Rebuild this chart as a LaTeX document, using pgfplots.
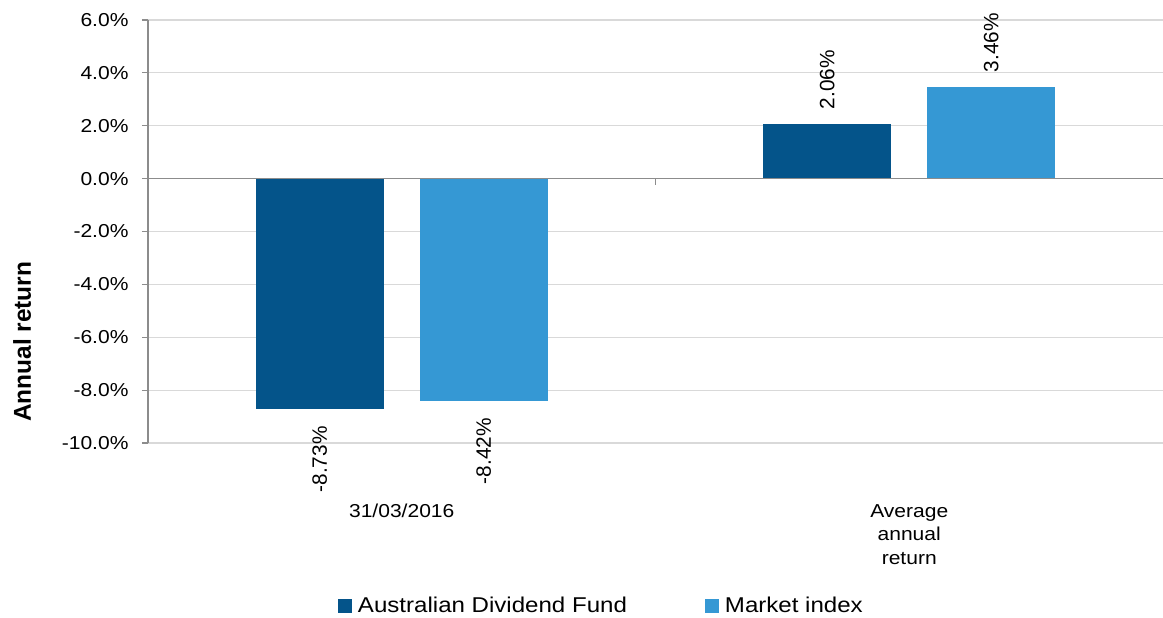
\documentclass[border=0pt]{standalone}
\usepackage{pgfplots}
\pgfplotsset{compat=1.18}
\usepackage{fontspec}
\setmainfont[FakeStretch=1.125]{Liberation Sans}
\newfontfamily\rotfont{Liberation Sans}
\definecolor{dkb}{HTML}{04548A}
\definecolor{ltb}{HTML}{3598D4}
\definecolor{gridc}{HTML}{D9D9D9}
\definecolor{axc}{HTML}{8C8C8C}
\begin{document}
\begin{tikzpicture}
\useasboundingbox (-148pt,-175pt) rectangle (1015pt,443pt);
\begin{axis}[
  scale only axis, width=1015pt, height=423pt,
  at={(0pt,0pt)}, anchor=south west,
  xmin=0, xmax=2, ymin=-10, ymax=6,
  ybar, bar width=128pt,
  axis lines*=left,
  x axis line style={draw=none},
  y axis line style={draw=axc, line width=1.5pt},
  ytick={-10,-8,...,6},
  ytick pos=left, tick align=outside,
  major tick length=6pt,
  y tick style={draw=axc, line width=1.2pt},
  ymajorgrids, major grid style={draw=gridc, line width=1.2pt},
  xtick={0.5,1.5},
  xticklabels={31/03/2016, {Average\\annual\\return}},
  x tick style={draw=none},
  xticklabel style={align=center, anchor=north, inner sep=0pt, yshift=-55pt, font=\fontsize{18.7}{23.5}\selectfont},
  yticklabel={\pgfmathprintnumber[fixed,fixed zerofill,precision=1]{\tick}\%},
  yticklabel style={font=\fontsize{18.7}{22}\selectfont, xshift=-10pt},
  /pgf/number format/assume math mode=true,
  ylabel={Annual return},
  ylabel style={at={(axis description cs:-0.1241,0.239)}, anchor=center, font=\rotfont\bfseries\fontsize{24.4}{28}\selectfont},
  legend image code/.code={\fill[#1] (0pt,-7pt) rectangle (14pt,7pt);},
  legend columns=2,
  legend style={draw=none, fill=none, inner sep=0pt, at={(axis description cs:0.187,-0.385)}, anchor=west, font=\fontsize{21.4}{24}\selectfont,
    /tikz/every odd column/.append style={column sep=4pt},
    /tikz/every even column/.append style={column sep=76pt}},
  nodes near coords={\pgfmathprintnumber[fixed,fixed zerofill,precision=2]{\pgfplotspointmeta}\%},
  clip=false,
]
\addlegendimage{fill=dkb, draw=none}
\addlegendimage{fill=ltb, draw=none}
\addplot[fill=dkb, draw=none, bar shift=-82pt, forget plot,
  nodes near coords style={rotate=90, anchor=east, inner sep=0pt, outer xsep=17pt, font=\rotfont\fontsize{20.8}{24}\selectfont}]
  coordinates {(0.5,-8.73)};
\addplot[fill=ltb, draw=none, bar shift=82pt, forget plot,
  nodes near coords style={rotate=90, anchor=east, inner sep=0pt, outer xsep=17pt, font=\rotfont\fontsize{20.8}{24}\selectfont}]
  coordinates {(0.5,-8.42)};
\addplot[fill=dkb, draw=none, bar shift=-82pt, forget plot,
  nodes near coords style={rotate=90, anchor=west, inner sep=0pt, outer xsep=15pt, font=\rotfont\fontsize{20.8}{24}\selectfont}]
  coordinates {(1.5,2.06)};
\addplot[fill=ltb, draw=none, bar shift=82pt, forget plot,
  nodes near coords style={rotate=90, anchor=west, inner sep=0pt, outer xsep=15pt, font=\rotfont\fontsize{20.8}{24}\selectfont}]
  coordinates {(1.5,3.46)};
\draw[draw=axc, line width=1.5pt] (axis cs:0,0) -- (axis cs:2,0);
\draw[draw=axc, line width=1.2pt] (axis cs:1,0) -- ++(0pt,-6pt);
\legend{Australian Dividend Fund, Market index}
\end{axis}
\end{tikzpicture}
\end{document}
